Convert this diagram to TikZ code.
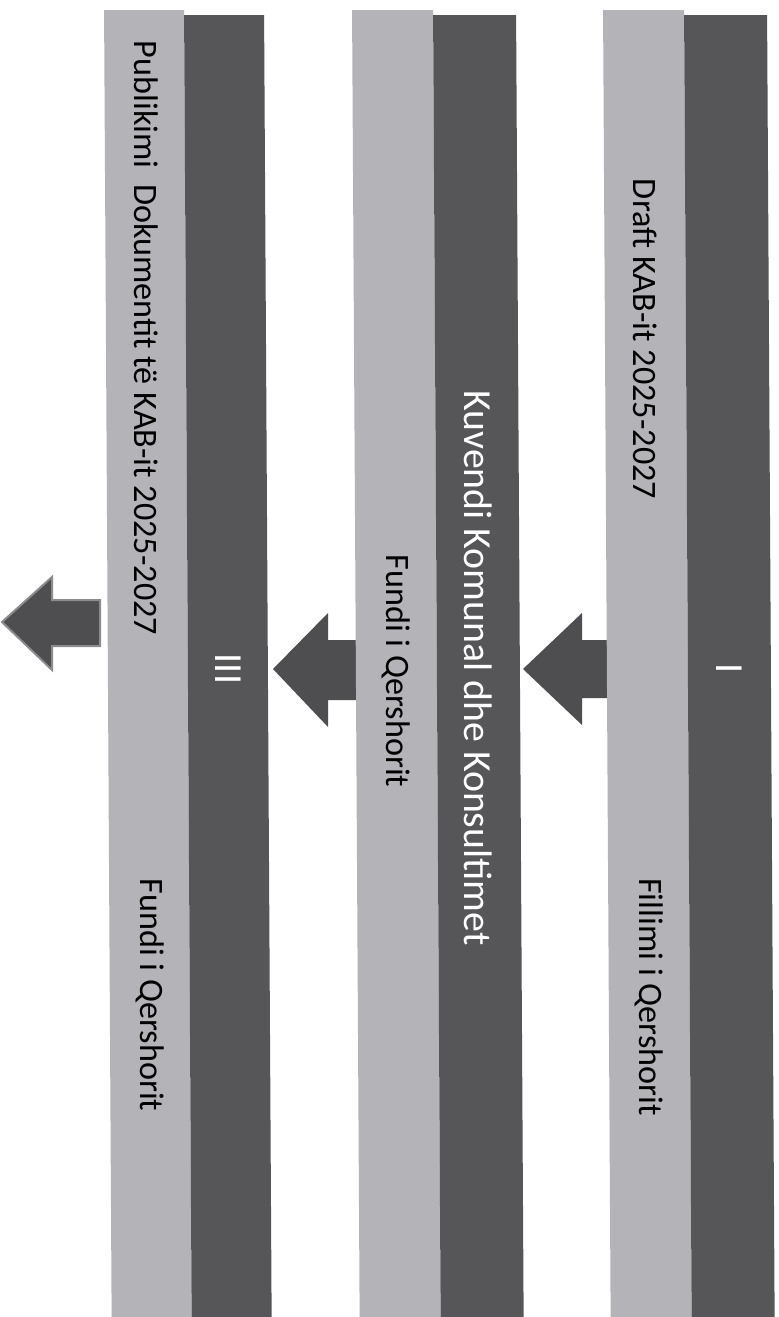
\documentclass[tikz,border=0pt]{standalone}
\usepackage{fontspec}
\setmainfont{Carlito}
\definecolor{lightstrip}{RGB}{180,180,184}
\definecolor{darkstrip}{RGB}{86,86,89}
\definecolor{arrowfill}{RGB}{78,78,80}
\definecolor{arrowedge}{RGB}{140,140,142}
\begin{document}
\begin{tikzpicture}[x=0.5pt,y=-0.5pt,
  lightbar/.style={fill=lightstrip},
  darkbar/.style={fill=darkstrip},
  blk/.style={text=black,font=\fontsize{17.1}{20}\selectfont,rotate=-90,inner sep=0pt},
  wht/.style={text=white,font=\fontsize{19.9}{24}\selectfont,rotate=-90,inner sep=0pt},
  blockarrow/.style={fill=arrowfill},
  outarrow/.style={fill=arrowfill,draw=arrowedge,line width=1pt,line join=miter}]
\useasboundingbox (0,0) rectangle (778,1317);
\fill[white] (0,0) rectangle (778,1317);
% block arrows between the columns
\fill[blockarrow] (612,640) -- (582,640) -- (582,613) -- (523,669) -- (582,725) -- (582,698) -- (612,698) -- cycle;
\fill[blockarrow] (360,640) -- (328,640) -- (328,613) -- (273,669) -- (328,727) -- (328,700) -- (360,700) -- cycle;
\filldraw[outarrow] (100,600) -- (52,600) -- (52,577) -- (2,622) -- (52,670) -- (52,646) -- (100,646) -- cycle;
\begin{scope}[xslant=-0.0058]
  % column 1
  \fill[lightbar] (104,10) -- (184,10) -- (184,1340) -- (104,1340) -- cycle;
  \fill[darkbar] (184,15) -- (264,15) -- (264,1340) -- (184,1340) -- cycle;
  % column 2
  \fill[lightbar] (352,10) -- (433,10) -- (433,1340) -- (352,1340) -- cycle;
  \fill[darkbar] (433,15) -- (516,15) -- (516,1340) -- (433,1340) -- cycle;
  % column 3
  \fill[lightbar] (603,10) -- (684,10) -- (684,1340) -- (603,1340) -- cycle;
  \fill[darkbar] (684,15) -- (767,15) -- (767,1340) -- (684,1340) -- cycle;
  % texts
  \node[blk] (pub) at (144,338) {Publikimi\ \ Dokumentit të KAB-it 2025-2027};
  \node[blk] (fund1) at (144,995) {Fundi i Qershorit};
  \node[wht] (iii) at (224,669) {III};
  \node[blk] (fund2) at (392.5,671) {Fundi i Qershorit};
  \node[wht] (kuv) at (474.5,668) {Kuvendi Komunal dhe Konsultimet};
  \node[blk] (draft) at (643.5,339) {Draft KAB-it 2025-2027};
  \node[blk] (fill) at (643.5,997) {Fillimi i Qershorit};
  \node[wht] (one) at (725.5,669) {I};
\end{scope}
\end{tikzpicture}
\end{document}
